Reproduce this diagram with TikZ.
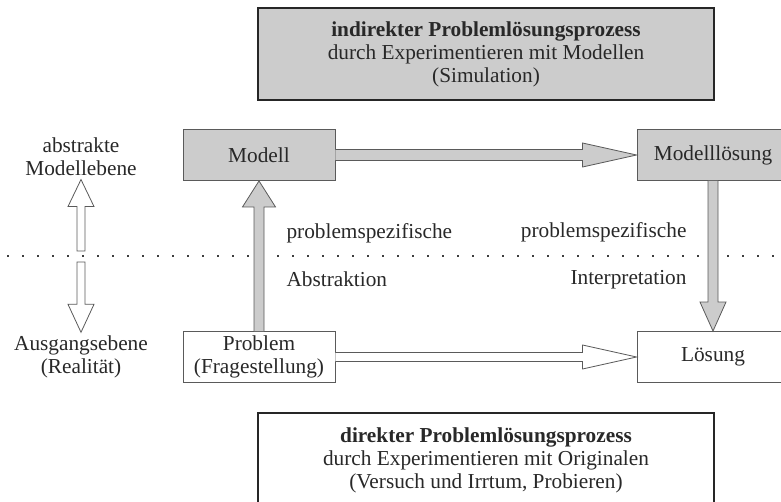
\documentclass[tikz,border=0pt]{standalone}
\usepackage{fontspec}
\setmainfont{Liberation Serif}
\usetikzlibrary{calc, positioning}
\definecolor{boxgray}{HTML}{CCCCCC}
\definecolor{edge}{HTML}{5A5A5A}
\definecolor{txt}{HTML}{282828}
\tikzset{
	px/.style={x=1pt,y=-1pt},
	box/.style={
		rectangle,
		draw=edge, line width=0.9pt,
		fill=boxgray,
		text=txt, align=center,
		inner sep=0pt,
		minimum width=152pt, minimum height=51pt
	},
	box white/.style={box, fill=white},
	frame/.style={
		rectangle,
		draw=black!85, line width=1.6pt,
		fill=boxgray,
		text=txt, align=center,
		inner sep=0pt,
		minimum width=456pt, minimum height=92pt
	},
	lbl/.style={text=txt, align=center},
	fat arrow/.style={draw=edge, fill=boxgray, line width=0.8pt, line join=miter},
	fat arrow white/.style={fat arrow, fill=white}
}

\begin{document}
\begin{tikzpicture}[px, font=\fontsize{21.3}{23}\selectfont]

	\useasboundingbox (0,0) rectangle (781,502);
	\clip (0,0) rectangle (781,502);

	%% level separator
	\foreach \x in {8.3,23.3,...,781}
		{\fill[txt!90] ($(\x,256)+(-1.1,-1.1)$) rectangle ++(2.2,2.2);}

	%% boxes
	\node[frame]				(indir)	at (486,54)		{\textbf{indirekter Problemlösungsprozess}\\durch Experimentieren mit Modellen\\(Simulation)};
	\node[frame,fill=white,minimum height=94pt]	(dir)	at (486,460)	{\textbf{direkter Problemlösungsprozess}\\durch Experimentieren mit Originalen\\(Versuch und Irrtum, Probieren)};

	\node[box]					(modell)	at (259,155)	{Modell};
	\node[box]					(mlsg)		at (713,155)	{Modelllösung};
	\node[box white]			(prob)		at (259,357)	{\fontsize{21.3}{21.5}\selectfont Problem\\(Fragestellung)};
	\node[box white]			(lsg)		at (713,357)	{Lösung};

	%% level labels
	\node[lbl]					(abstr)	at (81,157)		{abstrakte\\Modellebene};
	\node[lbl]					(ausg)		at (81,357)		{Ausgangsebene\\(Realität)};

	%% arrow labels
	\node[lbl,anchor=base west]	(spez1)	at (283,239)	{problemspezifische};
	\node[lbl,anchor=base west]	(abstrakt)	at (283,287)	{Abstraktion};
	\node[lbl,anchor=base east]	(spez2)	at (690,238)	{problemspezifische};
	\node[lbl,anchor=base east]	(interp)	at (690,285)	{Interpretation};

	%% Modell -> Modelllösung
	\draw[fat arrow] ($(modell.east)+(0,-5.5)$) -- ($(mlsg.west)+(-54,-5.5)$) -- ($(mlsg.west)+(-54,-12)$)
		-- (mlsg.west) -- ($(mlsg.west)+(-54,12)$) -- ($(mlsg.west)+(-54,5.5)$) -- ($(modell.east)+(0,5.5)$);

	%% Problem -> Modell
	\draw[fat arrow] ($(prob.north)+(-5,0)$) -- ($(modell.south)+(-5,26)$) -- ($(modell.south)+(-16.5,26)$)
		-- (modell.south) -- ($(modell.south)+(16.5,26)$) -- ($(modell.south)+(5,26)$) -- ($(prob.north)+(5,0)$);

	%% Modelllösung -> Lösung
	\draw[fat arrow] ($(mlsg.south)+(-5,0)$) -- ($(lsg.north)+(-5,-29)$) -- ($(lsg.north)+(-13,-29)$)
		-- (lsg.north) -- ($(lsg.north)+(13,-29)$) -- ($(lsg.north)+(5,-29)$) -- ($(mlsg.south)+(5,0)$);

	%% Problem -> Lösung
	\draw[fat arrow white] ($(prob.east)+(0,-4.5)$) -- ($(lsg.west)+(-54,-4.5)$) -- ($(lsg.west)+(-54,-12)$)
		-- (lsg.west) -- ($(lsg.west)+(-54,12)$) -- ($(lsg.west)+(-54,4.5)$) -- ($(prob.east)+(0,4.5)$);

	%% level arrows
	\coordinate (upend)	at (81,251);
	\coordinate (dnend)	at (81,262);
	\draw[fat arrow white] ($(upend)+(-4,0)$) -- ($(abstr.south)+(-4,27)$) -- ($(abstr.south)+(-13,27)$)
		-- (abstr.south) -- ($(abstr.south)+(13,27)$) -- ($(abstr.south)+(4,27)$) -- ($(upend)+(4,0)$) -- cycle;
	\draw[fat arrow white] ($(dnend)+(-4,0)$) -- ($(ausg.north)+(-4,-28)$) -- ($(ausg.north)+(-13,-28)$)
		-- (ausg.north) -- ($(ausg.north)+(13,-28)$) -- ($(ausg.north)+(4,-28)$) -- ($(dnend)+(4,0)$) -- cycle;

\end{tikzpicture}
\end{document}
